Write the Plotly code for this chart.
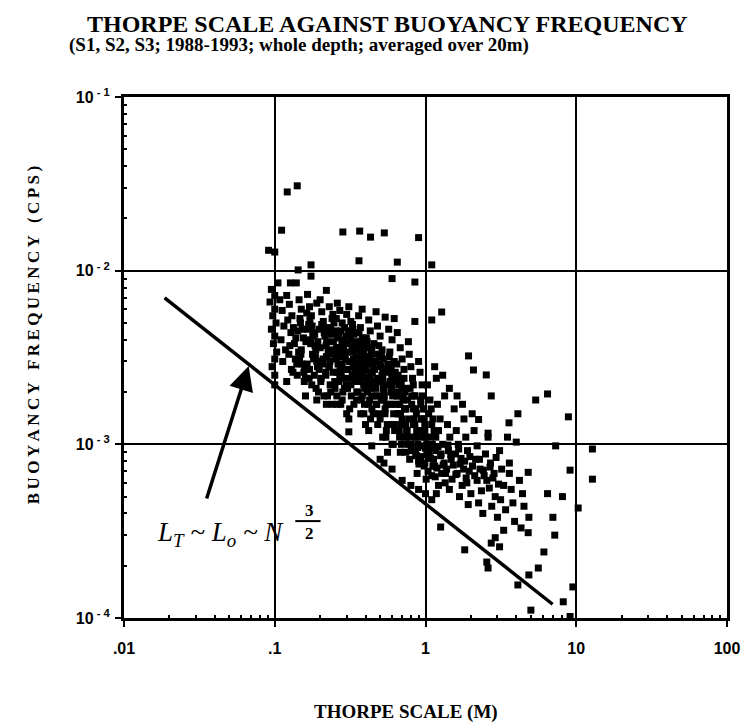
import plotly.graph_objects as go

# ---- data ----
thorpe_scale = [
    # sparse upper points
    0.121, 0.141, 0.111, 0.091, 0.100, 0.283, 0.366, 0.432, 0.533, 0.362,
    0.65, 1.1, 0.174, 0.143, 0.174, 0.105, 0.127, 0.139, 0.6, 0.85, 0.9,
    # column near x = 0.1
    0.095, 0.1, 0.093, 0.1, 0.097, 0.102, 0.095, 0.1, 0.098, 0.103,
    0.1, 0.096, 0.1, 0.108, 0.112, 0.115, 0.11, 0.118, 0.113, 0.12,
    0.125, 0.13, 0.128, 0.135, 0.124, 0.14, 0.132, 0.145, 0.15, 0.148,
    0.142, 0.155, 0.15, 0.146, 0.158, 0.16, 0.1, 0.12,
    # 0.16 - 0.22
    0.165, 0.17, 0.175, 0.168, 0.18, 0.172, 0.185, 0.178, 0.19, 0.17,
    0.183, 0.176, 0.195, 0.2, 0.205, 0.21, 0.198, 0.215, 0.2, 0.22,
    0.208, 0.218, 0.202, 0.212, 0.22, 0.19,
    # 0.23 - 0.3
    0.23, 0.24, 0.235, 0.25, 0.245, 0.24, 0.255, 0.23, 0.26, 0.25,
    0.235, 0.26, 0.27, 0.28, 0.275, 0.285, 0.27, 0.29, 0.28, 0.295,
    0.27, 0.29, 0.28, 0.3, 0.26, 0.3,
    # 0.31 - 0.4
    0.31, 0.32, 0.33, 0.315, 0.34, 0.325, 0.35, 0.33, 0.345, 0.32,
    0.35, 0.335, 0.31, 0.36, 0.37, 0.38, 0.365, 0.39, 0.37, 0.385,
    0.36, 0.395, 0.375, 0.39, 0.4, 0.38,
    # 0.41 - 0.55
    0.42, 0.43, 0.41, 0.44, 0.425, 0.45, 0.43, 0.46, 0.44, 0.47,
    0.45, 0.42, 0.48, 0.5, 0.49, 0.51, 0.5, 0.52, 0.49, 0.53,
    0.51, 0.54, 0.5, 0.55, 0.52, 0.47,
    # 0.56 - 0.75
    0.57, 0.6, 0.58, 0.62, 0.59, 0.63, 0.6, 0.65, 0.61, 0.66,
    0.62, 0.67, 0.6, 0.68, 0.7, 0.72, 0.69, 0.73, 0.71, 0.74,
    0.7, 0.75, 0.72, 0.74, 0.65, 0.56,
    # 0.76 - 1.0
    0.78, 0.8, 0.82, 0.79, 0.85, 0.81, 0.87, 0.83, 0.88, 0.8,
    0.86, 0.9, 0.92, 0.95, 0.93, 0.97, 0.94, 0.99, 0.96, 1.0,
    0.93, 0.98, 0.77, 0.9,
    # 1.0 - 1.5
    1.03, 1.07, 1.05, 1.1, 1.08, 1.12, 1.06, 1.15, 1.1, 1.2,
    1.25, 1.22, 1.3, 1.27, 1.33, 1.28, 1.35, 1.4, 1.45, 1.42,
    1.48, 1.38, 1.5, 1.44, 1.3, 1.15,
    # 1.5 - 2.5
    1.55, 1.6, 1.65, 1.58, 1.7, 1.62, 1.75, 1.68, 1.8, 1.85,
    1.9, 1.82, 1.95, 1.88, 2.0, 1.92, 2.1, 2.2, 2.15, 2.3,
    2.2, 2.35, 2.25, 2.4, 2.5, 2.45,
    # 2.5 - 5
    2.6, 2.7, 2.8, 2.65, 2.9, 2.75, 3.0, 3.1, 3.2, 3.3,
    3.15, 3.4, 3.5, 3.6, 3.7, 3.8, 3.9, 4.2, 4.5, 4.3,
    3.3, 2.9,
    # sparse right / lower points
    1.28, 1.10, 0.85, 0.62, 0.54, 1.93, 2.08, 2.53, 2.73, 5.38,
    6.45, 8.87, 4.1, 3.58, 2.25, 2.6, 4.0, 7.3, 12.8, 9.1,
    12.8, 4.8, 3.6, 2.94, 4.4, 6.45, 8.1, 10.3, 7.0, 4.85,
    7.2, 4.8, 6.1, 5.6, 4.85, 4.1, 8.2, 5.0, 9.5, 2.6,
    2.55, 1.82, 1.26, 3.1, 2.73, 9.1,
    # points close to the line
    0.16, 0.19, 0.22, 0.31, 0.44, 0.5, 0.53, 0.6, 0.7, 0.8,
    0.9, 1.0, 1.1,
    # dense core 0.12 - 0.2
    0.122, 0.133, 0.138, 0.126, 0.144, 0.137, 0.152, 0.129, 0.141, 0.157,
    0.163, 0.171, 0.166, 0.179, 0.173, 0.187, 0.181, 0.192, 0.169, 0.188,
    # dense core 0.2 - 0.35
    0.205, 0.213, 0.221, 0.226, 0.209, 0.229, 0.218, 0.233, 0.224, 0.241,
    0.247, 0.253, 0.262, 0.257, 0.268, 0.263, 0.276, 0.267, 0.283, 0.274,
    0.291, 0.297, 0.305, 0.301, 0.312, 0.307, 0.318, 0.304, 0.322, 0.314,
    0.328, 0.336, 0.341, 0.331, 0.347, 0.339, 0.352, 0.344, 0.356, 0.349,
    # dense core 0.35 - 0.7
    0.362, 0.371, 0.377, 0.368, 0.383, 0.376, 0.389, 0.381, 0.394, 0.372,
    0.405, 0.413, 0.421, 0.409, 0.428, 0.417, 0.434, 0.426, 0.441, 0.432,
    0.455, 0.463, 0.471, 0.459, 0.478, 0.467, 0.484, 0.475, 0.491, 0.482,
    0.515, 0.527, 0.536, 0.521, 0.543, 0.532, 0.551, 0.539, 0.558, 0.546,
    0.575, 0.588, 0.597, 0.583, 0.606, 0.594, 0.615, 0.603, 0.624, 0.611,
    0.645, 0.658, 0.667, 0.652, 0.676, 0.664, 0.685, 0.673, 0.692, 0.681,
    # dense core 0.7 - 1.25
    0.72, 0.745, 0.76, 0.735, 0.775, 0.755, 0.79, 0.77, 0.805, 0.785,
    0.83, 0.845, 0.86, 0.84, 0.875, 0.855, 0.89, 0.87, 0.905, 0.88,
    0.95, 0.965, 0.98, 0.96, 1.0, 0.975, 1.02, 0.99, 1.04, 1.01,
    1.09, 1.12, 1.14, 1.11, 1.17, 1.13, 1.19, 1.16, 1.22, 1.18,
    # extra fill 0.14 - 0.3
    0.147, 0.153, 0.161, 0.149, 0.164, 0.156, 0.177, 0.184, 0.193, 0.186,
    0.197, 0.203, 0.214, 0.227, 0.219, 0.238, 0.232, 0.244, 0.251, 0.258,
    0.266, 0.279, 0.286, 0.294, 0.287, 0.299, 0.271, 0.261, 0.243, 0.256,
    # extra fill 0.3 - 0.75
    0.309, 0.317, 0.326, 0.333, 0.342, 0.327, 0.355, 0.363, 0.374, 0.358,
    0.386, 0.397, 0.402, 0.391, 0.412, 0.419, 0.437, 0.448, 0.444, 0.456,
    0.468, 0.497, 0.506, 0.514, 0.523, 0.531, 0.562, 0.571, 0.582, 0.591,
    0.63, 0.641, 0.655, 0.668, 0.683, 0.7, 0.71, 0.725, 0.738, 0.75,
    # extra fill 0.8 - 3
    0.81, 0.83, 0.85, 0.87, 0.89, 0.93, 0.96, 0.99, 1.02, 1.05,
    1.08, 1.12, 1.17, 1.21, 1.26, 1.31, 1.36, 1.41, 1.47, 1.53,
    1.59, 1.66, 1.72, 1.79, 1.86, 1.97, 2.05, 2.12, 2.28, 2.42,
    2.55, 2.68, 2.85, 3.05, 1.62, 1.76, 2.04, 1.44, 1.18, 1.34,
]
buoyancy_freq = [
    0.0284, 0.0308, 0.0171, 0.0131, 0.0128, 0.0167, 0.0169, 0.0156, 0.0165, 0.0114,
    0.0112, 0.0108, 0.0108, 0.0101, 0.0093, 0.0085, 0.0085, 0.0085, 0.0090, 0.0086, 0.0155,
    0.0078, 0.0072, 0.0066, 0.0060, 0.0055, 0.0050, 0.0046, 0.0042, 0.0038, 0.0034,
    0.0031, 0.0028, 0.0025, 0.0068, 0.0059, 0.0048, 0.0040, 0.0035, 0.0030, 0.0072,
    0.0064, 0.0055, 0.0044, 0.0038, 0.0033, 0.0029, 0.0026, 0.0068, 0.0060, 0.0050,
    0.0045, 0.0041, 0.0035, 0.0031, 0.0027, 0.0024, 0.0022, 0.0023,
    0.0073, 0.0062, 0.0055, 0.0049, 0.0044, 0.0040, 0.0037, 0.0033, 0.0030, 0.0027,
    0.0025, 0.0022, 0.0020, 0.0068, 0.0058, 0.0051, 0.0046, 0.0042, 0.0036, 0.0032,
    0.0029, 0.0026, 0.0023, 0.0019, 0.0077, 0.0065,
    0.0062, 0.0053, 0.0047, 0.0043, 0.0039, 0.0035, 0.0031, 0.0028, 0.0026, 0.0023,
    0.0020, 0.0017, 0.0059, 0.0050, 0.0045, 0.0040, 0.0036, 0.0033, 0.0029, 0.0027,
    0.0024, 0.0021, 0.0018, 0.0015, 0.0065, 0.0056,
    0.0062, 0.0051, 0.0046, 0.0042, 0.0038, 0.0034, 0.0031, 0.0028, 0.0025, 0.0022,
    0.0020, 0.0017, 0.0014, 0.0055, 0.0047, 0.0041, 0.0036, 0.0033, 0.0029, 0.0026,
    0.0023, 0.0021, 0.0018, 0.0015, 0.0013, 0.0060,
    0.0052, 0.0045, 0.0039, 0.0035, 0.0031, 0.0028, 0.0025, 0.0022, 0.0019, 0.0017,
    0.0015, 0.0012, 0.0048, 0.0042, 0.0037, 0.0032, 0.0029, 0.0026, 0.0023, 0.0020,
    0.0018, 0.0016, 0.0014, 0.0012, 0.0011, 0.0058,
    0.0046, 0.0040, 0.0034, 0.0030, 0.0027, 0.0024, 0.0021, 0.0019, 0.0017, 0.0015,
    0.0013, 0.0012, 0.0010, 0.0036, 0.0031, 0.0027, 0.0023, 0.0020, 0.0018, 0.0016,
    0.0014, 0.0012, 0.0011, 0.0009, 0.0044, 0.0009,
    0.0033, 0.0028, 0.0024, 0.0021, 0.0019, 0.0017, 0.0015, 0.0013, 0.0012, 0.0010,
    0.0009, 0.0008, 0.0026, 0.0022, 0.0018, 0.0016, 0.0014, 0.0012, 0.0011, 0.00095,
    0.00085, 0.00075, 0.0039, 0.0030,
    0.0022, 0.0018, 0.0015, 0.0013, 0.0011, 0.00095, 0.00085, 0.00075, 0.00066, 0.0017,
    0.0014, 0.0012, 0.0010, 0.00088, 0.00078, 0.00068, 0.00060, 0.0013, 0.0011, 0.00092,
    0.00082, 0.00072, 0.00063, 0.00055, 0.0025, 0.0028,
    0.0016, 0.0012, 0.0010, 0.00088, 0.00077, 0.00068, 0.00058, 0.00050, 0.0014, 0.0011,
    0.00092, 0.00080, 0.00070, 0.00060, 0.00052, 0.00045, 0.0012, 0.00098, 0.00082, 0.00072,
    0.00062, 0.00054, 0.00046, 0.00040, 0.00088, 0.00066,
    0.0011, 0.00078, 0.00064, 0.00056, 0.00050, 0.00044, 0.00038, 0.00092, 0.00072, 0.00058,
    0.00048, 0.00042, 0.0011, 0.00068, 0.00055, 0.00046, 0.00036, 0.00062, 0.00044, 0.00033,
    0.00032, 0.00029,
    0.00578, 0.0052, 0.0051, 0.0053, 0.0054, 0.00323, 0.00268, 0.00251, 0.0019, 0.0018,
    0.00195, 0.00144, 0.0015, 0.00133, 0.00139, 0.00116, 0.00103, 0.00098, 0.00094, 0.00071,
    0.00063, 0.00069, 0.00078, 0.00084, 0.00052, 0.00052, 0.0005, 0.00043, 0.00038, 0.00038,
    0.0003, 0.00031, 0.00024, 0.000194, 0.000177, 0.000155, 0.000124, 0.000111, 0.000151, 0.000194,
    0.00021, 0.000247, 0.000334, 0.000257, 0.00027, 0.000102,
    0.0019, 0.0018, 0.0017, 0.00118, 0.00098, 0.00082, 0.00078, 0.00072, 0.00062, 0.00058,
    0.00055, 0.00052, 0.00048,
    0.0052, 0.0047, 0.0041, 0.0037, 0.0034, 0.0031, 0.0029, 0.0027, 0.0025, 0.0023,
    0.0057, 0.0052, 0.0046, 0.0042, 0.0038, 0.0035, 0.0031, 0.0028, 0.0024, 0.0021,
    0.0049, 0.0044, 0.0039, 0.0034, 0.0031, 0.0028, 0.0025, 0.0022, 0.0019, 0.0017,
    0.0050, 0.0045, 0.0041, 0.0036, 0.0032, 0.0029, 0.0026, 0.0023, 0.0020, 0.0017,
    0.0047, 0.0042, 0.0038, 0.0034, 0.0030, 0.0027, 0.0024, 0.0021, 0.0019, 0.0016,
    0.0049, 0.0043, 0.0039, 0.0035, 0.0032, 0.0029, 0.0026, 0.0023, 0.0020, 0.0018,
    0.0044, 0.0039, 0.0034, 0.0031, 0.0028, 0.0025, 0.0022, 0.0019, 0.0017, 0.0015,
    0.0041, 0.0036, 0.0032, 0.0029, 0.0026, 0.0023, 0.0021, 0.0018, 0.0016, 0.0014,
    0.0038, 0.0033, 0.0030, 0.0027, 0.0024, 0.0021, 0.0019, 0.0017, 0.0015, 0.0013,
    0.0035, 0.0031, 0.0027, 0.0024, 0.0022, 0.0019, 0.0017, 0.0015, 0.0013, 0.0011,
    0.0032, 0.0028, 0.0025, 0.0022, 0.0019, 0.0017, 0.0015, 0.0013, 0.0012, 0.0010,
    0.0029, 0.0025, 0.0022, 0.0019, 0.0017, 0.0015, 0.0013, 0.0011, 0.0010, 0.0009,
    0.0024, 0.0021, 0.0018, 0.0016, 0.0014, 0.0012, 0.0011, 0.0010, 0.00092, 0.00082,
    0.0022, 0.0019, 0.0016, 0.0014, 0.0012, 0.0011, 0.00096, 0.00086, 0.00077, 0.00068,
    0.0019, 0.0016, 0.0014, 0.0012, 0.0011, 0.00098, 0.00087, 0.00078, 0.00070, 0.00063,
    0.0016, 0.0014, 0.0012, 0.0010, 0.00092, 0.00082, 0.00073, 0.00065, 0.00058, 0.00052,
    0.0053, 0.0046, 0.0039, 0.0033, 0.0029, 0.0026, 0.0048, 0.0043, 0.0039, 0.0032,
    0.0027, 0.0024, 0.0047, 0.0043, 0.0037, 0.0033, 0.0030, 0.0026, 0.0021, 0.0019,
    0.0044, 0.0038, 0.0035, 0.0031, 0.0024, 0.0022, 0.0028, 0.0033, 0.0056, 0.0053,
    0.0045, 0.0040, 0.0036, 0.0031, 0.0027, 0.0025, 0.0035, 0.0030, 0.0027, 0.0024,
    0.0037, 0.0031, 0.0027, 0.0024, 0.0020, 0.0017, 0.0034, 0.0030, 0.0026, 0.0023,
    0.0019, 0.0033, 0.0028, 0.0025, 0.0021, 0.0018, 0.0029, 0.0026, 0.0023, 0.0020,
    0.0026, 0.0023, 0.0020, 0.0017, 0.0015, 0.0021, 0.0019, 0.0016, 0.0013, 0.0011,
    0.0019, 0.0016, 0.0013, 0.0011, 0.0010, 0.0017, 0.0014, 0.0013, 0.0010, 0.00092,
    0.00083, 0.00075, 0.0011, 0.00097, 0.00086, 0.00076, 0.00068, 0.00099, 0.00087, 0.00076,
    0.00067, 0.00094, 0.00083, 0.00072, 0.00064, 0.00085, 0.00075, 0.00066, 0.00082, 0.00071,
    0.00062, 0.00074, 0.00068, 0.00059, 0.0019, 0.0017, 0.0015, 0.0021, 0.0024, 0.0019,
]

# fitted line L_T ~ N^(-3/2)  (end points)
line_thorpe = [0.0186, 6.97]
line_freq = [0.00697, 0.000120]

x_tickvals = [0.01, 0.1, 1, 10, 100]
x_ticktext = [".01", ".1", "1", "10", "100"]
y_tickvals = [1e-4, 1e-3, 1e-2, 1e-1]
y_ticktext = ["10<sup> - 4</sup>", "10<sup> - 3</sup>", "10<sup> - 2</sup>", "10<sup> - 1</sup>"]

n = min(len(thorpe_scale), len(buoyancy_freq))

x_minor = [m * d for d in (0.01, 0.1, 1, 10) for m in range(2, 10)]
y_minor = [m * d for d in (1e-4, 1e-3, 1e-2) for m in range(2, 10)]

fig = go.Figure()
fig.add_trace(go.Scatter(
    x=thorpe_scale[:n], y=buoyancy_freq[:n], mode="markers",
    marker=dict(symbol="square", size=7, color="black", line=dict(width=0)),
    showlegend=False, hoverinfo="skip"))
fig.add_trace(go.Scatter(
    x=line_thorpe, y=line_freq, mode="lines",
    line=dict(color="black", width=3.5), showlegend=False, hoverinfo="skip"))

axis_common = dict(
    type="log", showline=True, linecolor="black", linewidth=3, mirror=True,
    showgrid=True, gridcolor="black", gridwidth=2, zeroline=False,
    ticks="outside", ticklen=6, tickwidth=2, tickcolor="black",
    tickfont=dict(family="Liberation Sans, Arial", size=16, color="black", weight="bold"),
)
fig.update_xaxes(range=[-2, 2], tickvals=x_tickvals, ticktext=x_ticktext,
                 ticklabelstandoff=8,
                 minor=dict(tickvals=x_minor, ticks="inside", ticklen=3, tickwidth=2,
                            tickcolor="black", showgrid=False),
                 **axis_common)
fig.update_yaxes(range=[-4, -1], tickvals=y_tickvals, ticktext=y_ticktext,
                 ticklabelstandoff=2,
                 minor=dict(tickvals=y_minor, ticks="inside", ticklen=3, tickwidth=2,
                            tickcolor="black", showgrid=False),
                 **axis_common)

serif_b = dict(family="Liberation Serif, Times New Roman", color="black", weight="bold")
ts = "\u2009"
ytitle = "   ".join(ts.join(w) for w in ["BUOYANCY", "FREQUENCY", "(CPS)"])

fig.update_layout(
    width=752, height=724,
    margin=dict(l=124, r=19, t=97, b=106),
    paper_bgcolor="white", plot_bgcolor="white",
    annotations=[
        dict(text="THORPE SCALE AGAINST BUOYANCY FREQUENCY", xref="paper", yref="paper",
             x=-0.065, y=1.14, xanchor="left", yanchor="middle", showarrow=False,
             font=dict(size=24, **serif_b)),
        dict(text="(S1, S2, S3; 1988-1993; whole depth; averaged over 20m)", xref="paper", yref="paper",
             x=-0.094, y=1.1, xanchor="left", yanchor="middle", showarrow=False,
             font=dict(size=19, **serif_b)),
        dict(text="THORPE SCALE (M)", xref="paper", yref="paper",
             x=0.467, y=-0.18, xanchor="center", yanchor="middle", showarrow=False,
             font=dict(size=19, **serif_b)),
        dict(text=ytitle, xref="paper", yref="paper",
             x=-0.15, y=0.542, xanchor="center", yanchor="middle", showarrow=False,
             textangle=-90, font=dict(size=17, **serif_b)),
        dict(text="<i>L<sub>T</sub> ~ L<sub>o</sub> ~ N</i>", xref="paper", yref="paper",
             x=0.052, y=0.162, xanchor="left", yanchor="middle", showarrow=False,
             font=dict(size=27, family="Liberation Serif, Times New Roman", color="black")),
        dict(text="3", xref="paper", yref="paper", x=0.308, y=0.207, xanchor="center",
             yanchor="middle", showarrow=False, font=dict(size=17, **serif_b)),
        dict(text="2", xref="paper", yref="paper", x=0.308, y=0.162, xanchor="center",
             yanchor="middle", showarrow=False, font=dict(size=17, **serif_b)),
        dict(text="", x=-1.173, y=-2.549, ax=-1.455, ay=-3.32, xref="x", yref="y",
             axref="x", ayref="y", showarrow=True, arrowhead=2, arrowsize=1.4,
             arrowwidth=3.5, arrowcolor="black"),
    ],
    shapes=[
        dict(type="line", xref="paper", yref="paper", x0=0.284, x1=0.326, y0=0.186, y1=0.186,
             line=dict(color="black", width=2)),
    ],
)

fig.write_html("out.html")
